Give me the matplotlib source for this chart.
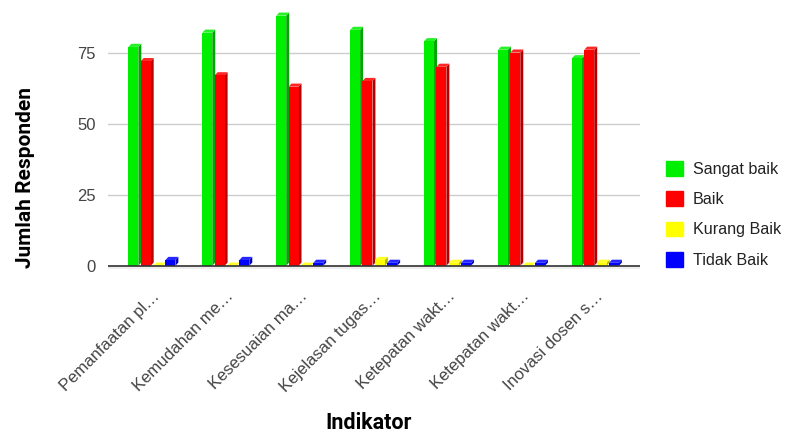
import numpy as np
import matplotlib.pyplot as plt
from matplotlib.patches import Polygon
from matplotlib.colors import to_rgb

plt.rcParams['font.family'] = ['Liberation Sans', 'DejaVu Sans']

# data
categories = ['Pemanfaatan pl…', 'Kemudahan me…', 'Kesesuaian ma…', 'Kejelasan tugas…',
              'Ketepatan wakt…', 'Ketepatan wakt…', 'Inovasi dosen s…']
series_names = ['Sangat baik', 'Baik', 'Kurang Baik', 'Tidak Baik']
sangat_baik = [77, 82, 88, 83, 79, 76, 73]
baik = [72, 67, 63, 65, 70, 75, 76]
kurang_baik = [0, 0, 0, 2, 1, 0, 1]
tidak_baik = [2, 2, 1, 1, 1, 1, 1]
yticks = [0, 25, 50, 75]

colors = ['#00ee00', '#ff0000', '#ffff00', '#0000ff']
values = [sangat_baik, baik, kurang_baik, tidak_baik]

fig = plt.figure(figsize=(7.85, 4.34), dpi=100)
ax = fig.add_axes([0.137, 0.38, 0.678, 0.597])

x = np.arange(len(categories))
w = 0.135
step = 0.167
dx = 0.04   # depth in x (data units)
dy = 1.1    # depth in y (data units)

for k, (vals, col) in enumerate(zip(values, colors)):
    pos = x + (k - 1.5) * step
    r, g, b = to_rgb(col)
    side = (r * 0.7, g * 0.7, b * 0.7)
    top = tuple(min(1, c * 0.85 + 0.15) for c in (r, g, b))
    for p, v in zip(pos, vals):
        x0 = p - w / 2
        x1 = p + w / 2
        # side face
        ax.add_patch(Polygon([(x1, 0), (x1 + dx, dy), (x1 + dx, v + dy), (x1, v)],
                             closed=True, facecolor=side, edgecolor='none', zorder=3))
        # top face
        ax.add_patch(Polygon([(x0, v), (x0 + dx, v + dy), (x1 + dx, v + dy), (x1, v)],
                             closed=True, facecolor=top, edgecolor='none', zorder=3))
    ax.bar(pos, vals, width=w, color=col, zorder=4, label=series_names[k])

ax.set_xlim(-0.6, 6.6)
ax.set_ylim(-1.2, 90)
ax.axhspan(-1.2, 0, color='#eeeeee', zorder=1, linewidth=0)
ax.set_yticks(yticks)
ax.yaxis.grid(True, color='#cccccc', linewidth=1)
ax.set_axisbelow(True)
ax.axhline(0, color='#333333', linewidth=1.2, zorder=5)
for s in ax.spines.values():
    s.set_visible(False)
ax.tick_params(axis='both', length=0, labelsize=12, labelcolor='#444444')
ax.tick_params(axis='y', pad=8.5)
ax.set_xticks(x)
ax.set_xticklabels(categories, rotation=45, ha='right', rotation_mode='anchor')
ax.tick_params(axis='x', pad=14)

fig.text(0.032, 0.592, 'Jumlah Responden', fontsize=15, fontweight='bold', rotation=90,
         ha='center', va='center', family=['Roboto', 'DejaVu Sans'])
fig.text(0.47, 0.0, 'Indikator', fontsize=15.5, fontweight='bold', ha='center', va='bottom',
         family=['Roboto', 'DejaVu Sans'])

handles = [plt.Rectangle((0, 0), 1, 1, color=c) for c in colors]
fig.legend(handles, series_names, loc='upper left', bbox_to_anchor=(0.848, 0.63),
           frameon=False, fontsize=11.6, handlelength=1.05, handleheight=1.05,
           labelspacing=0.9, handletextpad=0.65, borderpad=0, borderaxespad=0,
           labelcolor='#222222')

fig.savefig('out.png', dpi=100)
